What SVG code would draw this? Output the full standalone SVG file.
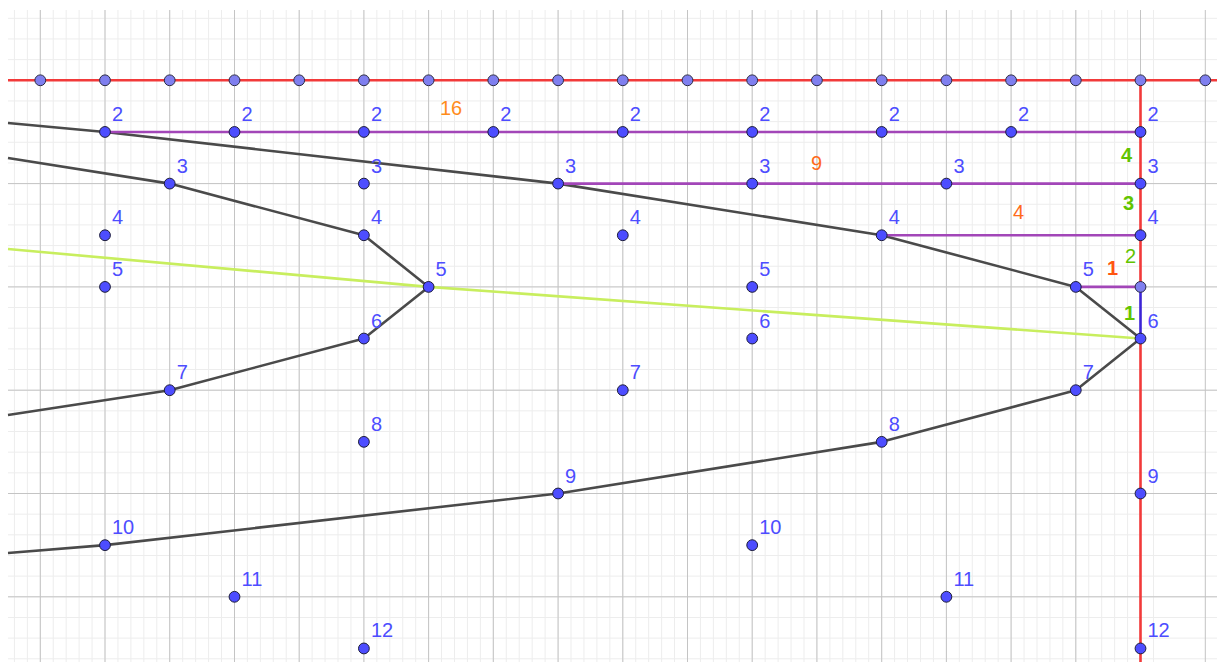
<svg xmlns="http://www.w3.org/2000/svg" width="1217" height="662" viewBox="0 0 1217 662">
<style>
.minor{stroke:#ededed;stroke-width:1;fill:none}
.major{stroke:#c4c4c4;stroke-width:1;fill:none}
.curve{stroke:#4a4a4a;stroke-width:2.6;fill:none;stroke-linejoin:round}
.purple{stroke:#a246b8;stroke-width:2.6;fill:none}
.red{stroke:#f23a3a;stroke-width:2.6;fill:none}
.blue{stroke:#3c24d6;stroke-width:2.6;fill:none}
.yellow{stroke:#c8ee5e;stroke-width:2.6;fill:none;stroke-linejoin:round}
.pt{fill:#4d4dff;stroke:#1c1c3a;stroke-width:1}
.lpt{fill:#7f7fef;stroke:#2a2a44;stroke-width:1}
.lbl{font-family:"Liberation Sans",Arial,sans-serif;font-size:20px;fill:#4d4dff}
.num{font-family:"Liberation Sans",Arial,sans-serif;font-size:20px}
.or{fill:#ff6a1a}
.gr{fill:#62c400}
</style>
<rect x="0" y="0" width="1217" height="662" fill="#ffffff"/>
<g id="grid">
<path class="minor" d="M14.41 10v652m12.944-652v652m12.944-652v652m12.944-652v652m12.944-652v652m12.944-652v652m12.944-652v652m12.944-652v652m12.944-652v652m12.944-652v652m12.944-652v652m12.944-652v652m12.944-652v652m12.944-652v652m12.944-652v652m12.944-652v652m12.944-652v652m12.944-652v652m12.944-652v652m12.944-652v652m12.944-652v652m12.944-652v652m12.944-652v652m12.944-652v652m12.944-652v652m12.944-652v652m12.944-652v652m12.944-652v652m12.944-652v652m12.944-652v652m12.944-652v652m12.944-652v652m12.944-652v652m12.944-652v652m12.944-652v652m12.944-652v652m12.944-652v652m12.944-652v652m12.944-652v652m12.944-652v652m12.944-652v652m12.944-652v652m12.944-652v652m12.944-652v652m12.944-652v652m12.944-652v652m12.944-652v652m12.944-652v652m12.944-652v652m12.944-652v652m12.944-652v652m12.944-652v652m12.944-652v652m12.944-652v652m12.944-652v652m12.944-652v652m12.944-652v652m12.944-652v652m12.944-652v652m12.944-652v652m12.944-652v652m12.944-652v652m12.944-652v652m12.944-652v652m12.944-652v652m12.944-652v652m12.944-652v652m12.944-652v652m12.944-652v652m12.944-652v652m12.944-652v652m12.944-652v652m12.944-652v652m12.944-652v652m12.944-652v652m12.944-652v652m12.944-652v652m12.944-652v652m12.944-652v652m12.944-652v652m12.944-652v652m12.944-652v652m12.944-652v652m12.944-652v652m12.944-652v652m12.944-652v652m12.944-652v652m12.944-652v652m12.944-652v652"/>
<path class="minor" d="M8 18.32h1209m-1209 20.66h1209m-1209 20.66h1209m-1209 20.66h1209m-1209 20.66h1209m-1209 20.66h1209m-1209 20.66h1209m-1209 20.66h1209m-1209 20.66h1209m-1209 20.66h1209m-1209 20.66h1209m-1209 20.66h1209m-1209 20.66h1209m-1209 20.66h1209m-1209 20.66h1209m-1209 20.66h1209m-1209 20.66h1209m-1209 20.66h1209m-1209 20.66h1209m-1209 20.66h1209m-1209 20.66h1209m-1209 20.66h1209m-1209 20.66h1209m-1209 20.66h1209m-1209 20.66h1209m-1209 20.66h1209m-1209 20.66h1209m-1209 20.66h1209m-1209 20.66h1209m-1209 20.66h1209m-1209 20.66h1209m-1209 20.66h1209"/>
<path class="major" d="M40.3 10V662M105 10V662M169.7 10V662M234.5 10V662M299.2 10V662M363.9 10V662M428.6 10V662M493.3 10V662M558.1 10V662M622.8 10V662M687.5 10V662M752.2 10V662M816.9 10V662M881.7 10V662M946.4 10V662M1011.1 10V662M1075.8 10V662M1140.5 10V662M1205.3 10V662"/>
<path class="major" d="M8 80.3H1217M8 183.6H1217M8 286.9H1217M8 390.2H1217M8 493.5H1217M8 596.8H1217"/>
</g>
<g id="connectors">
<polyline class="curve" points="8,123 105,131.95 558.1,183.6 881.7,235.25 1075.8,286.9 1140.5,338.55 1075.8,390.2 881.7,441.85 558.1,493.5 105,545.15 8,553"/>
<polyline class="curve" points="8,158 169.7,183.6 363.9,235.25 428.6,286.9 363.9,338.55 169.7,390.2 8,415"/>
<path class="purple" d="M105 131.95H1140.5M558.1 183.6H1140.5M881.7 235.25H1140.5M1075.8 286.9H1140.5"/>
<path class="red" d="M8 80.3H1217M1140.5 80.3V286.9M1140.5 338.55V662"/>
<path class="blue" d="M1140.5 286.9V338.55"/>
<polyline class="yellow" points="8,249 428.6,286.9 1140.5,338.55"/>
</g>
<g id="axis-points">
<circle class="lpt" cx="40.3" cy="80.3" r="5.4"/><circle class="lpt" cx="105" cy="80.3" r="5.4"/><circle class="lpt" cx="169.7" cy="80.3" r="5.4"/><circle class="lpt" cx="234.5" cy="80.3" r="5.4"/><circle class="lpt" cx="299.2" cy="80.3" r="5.4"/><circle class="lpt" cx="363.9" cy="80.3" r="5.4"/><circle class="lpt" cx="428.6" cy="80.3" r="5.4"/><circle class="lpt" cx="493.3" cy="80.3" r="5.4"/><circle class="lpt" cx="558.1" cy="80.3" r="5.4"/><circle class="lpt" cx="622.8" cy="80.3" r="5.4"/><circle class="lpt" cx="687.5" cy="80.3" r="5.4"/><circle class="lpt" cx="752.2" cy="80.3" r="5.4"/><circle class="lpt" cx="816.9" cy="80.3" r="5.4"/><circle class="lpt" cx="881.7" cy="80.3" r="5.4"/><circle class="lpt" cx="946.4" cy="80.3" r="5.4"/><circle class="lpt" cx="1011.1" cy="80.3" r="5.4"/><circle class="lpt" cx="1075.8" cy="80.3" r="5.4"/><circle class="lpt" cx="1140.5" cy="80.3" r="5.4"/><circle class="lpt" cx="1205.3" cy="80.3" r="5.4"/>
<circle class="lpt" cx="1140.5" cy="286.9" r="5.4"/>
</g>
<g id="row2">
<circle class="pt" cx="105" cy="131.95" r="5.4"/><circle class="pt" cx="234.5" cy="131.95" r="5.4"/><circle class="pt" cx="363.9" cy="131.95" r="5.4"/><circle class="pt" cx="493.3" cy="131.95" r="5.4"/><circle class="pt" cx="622.8" cy="131.95" r="5.4"/><circle class="pt" cx="752.2" cy="131.95" r="5.4"/><circle class="pt" cx="881.7" cy="131.95" r="5.4"/><circle class="pt" cx="1011.1" cy="131.95" r="5.4"/><circle class="pt" cx="1140.5" cy="131.95" r="5.4"/>
<text class="lbl" x="112" y="121">2</text><text class="lbl" x="241.5" y="121">2</text><text class="lbl" x="370.9" y="121">2</text><text class="lbl" x="500.3" y="121">2</text><text class="lbl" x="629.8" y="121">2</text><text class="lbl" x="759.2" y="121">2</text><text class="lbl" x="888.7" y="121">2</text><text class="lbl" x="1018.1" y="121">2</text><text class="lbl" x="1147.5" y="121">2</text>
</g>
<g id="row3">
<circle class="pt" cx="169.7" cy="183.6" r="5.4"/><circle class="pt" cx="363.9" cy="183.6" r="5.4"/><circle class="pt" cx="558.1" cy="183.6" r="5.4"/><circle class="pt" cx="752.2" cy="183.6" r="5.4"/><circle class="pt" cx="946.4" cy="183.6" r="5.4"/><circle class="pt" cx="1140.5" cy="183.6" r="5.4"/>
<text class="lbl" x="176.7" y="172.6">3</text><text class="lbl" x="370.9" y="172.6">3</text><text class="lbl" x="565.1" y="172.6">3</text><text class="lbl" x="759.2" y="172.6">3</text><text class="lbl" x="953.4" y="172.6">3</text><text class="lbl" x="1147.5" y="172.6">3</text>
</g>
<g id="row4">
<circle class="pt" cx="105" cy="235.25" r="5.4"/><circle class="pt" cx="363.9" cy="235.25" r="5.4"/><circle class="pt" cx="622.8" cy="235.25" r="5.4"/><circle class="pt" cx="881.7" cy="235.25" r="5.4"/><circle class="pt" cx="1140.5" cy="235.25" r="5.4"/>
<text class="lbl" x="112" y="224.25">4</text><text class="lbl" x="370.9" y="224.25">4</text><text class="lbl" x="629.8" y="224.25">4</text><text class="lbl" x="888.7" y="224.25">4</text><text class="lbl" x="1147.5" y="224.25">4</text>
</g>
<g id="row5">
<circle class="pt" cx="105" cy="286.9" r="5.4"/><circle class="pt" cx="428.6" cy="286.9" r="5.4"/><circle class="pt" cx="752.2" cy="286.9" r="5.4"/><circle class="pt" cx="1075.8" cy="286.9" r="5.4"/>
<text class="lbl" x="112" y="275.9">5</text><text class="lbl" x="435.6" y="275.9">5</text><text class="lbl" x="759.2" y="275.9">5</text><text class="lbl" x="1082.8" y="275.9">5</text>
</g>
<g id="row6">
<circle class="pt" cx="363.9" cy="338.55" r="5.4"/><circle class="pt" cx="752.2" cy="338.55" r="5.4"/><circle class="pt" cx="1140.5" cy="338.55" r="5.4"/>
<text class="lbl" x="370.9" y="327.55">6</text><text class="lbl" x="759.2" y="327.55">6</text><text class="lbl" x="1147.5" y="327.55">6</text>
</g>
<g id="row7">
<circle class="pt" cx="169.7" cy="390.2" r="5.4"/><circle class="pt" cx="622.8" cy="390.2" r="5.4"/><circle class="pt" cx="1075.8" cy="390.2" r="5.4"/>
<text class="lbl" x="176.7" y="379.2">7</text><text class="lbl" x="629.8" y="379.2">7</text><text class="lbl" x="1082.8" y="379.2">7</text>
</g>
<g id="row8">
<circle class="pt" cx="363.9" cy="441.85" r="5.4"/><circle class="pt" cx="881.7" cy="441.85" r="5.4"/>
<text class="lbl" x="370.9" y="430.85">8</text><text class="lbl" x="888.7" y="430.85">8</text>
</g>
<g id="row9">
<circle class="pt" cx="558.1" cy="493.5" r="5.4"/><circle class="pt" cx="1140.5" cy="493.5" r="5.4"/>
<text class="lbl" x="565.1" y="482.5">9</text><text class="lbl" x="1147.5" y="482.5">9</text>
</g>
<g id="row10">
<circle class="pt" cx="105" cy="545.15" r="5.4"/><circle class="pt" cx="752.2" cy="545.15" r="5.4"/>
<text class="lbl" x="112" y="534.15">10</text><text class="lbl" x="759.2" y="534.15">10</text>
</g>
<g id="row11">
<circle class="pt" cx="234.5" cy="596.8" r="5.4"/><circle class="pt" cx="946.4" cy="596.8" r="5.4"/>
<text class="lbl" x="241.5" y="585.8">11</text><text class="lbl" x="953.4" y="585.8">11</text>
</g>
<g id="row12">
<circle class="pt" cx="363.9" cy="648.45" r="5.4"/><circle class="pt" cx="1140.5" cy="648.45" r="5.4"/>
<text class="lbl" x="370.9" y="637.45">12</text><text class="lbl" x="1147.5" y="637.45">12</text>
</g>
<g id="length-labels">
<text class="num" x="440" y="115" fill="#ff8c1a">16</text>
<text class="num or" x="811" y="170">9</text>
<text class="num or" x="1013" y="219">4</text>
<text class="num" x="1107" y="275" fill="#ff5511" font-weight="bold">1</text>
<text class="num gr" x="1121" y="162" font-weight="bold">4</text>
<text class="num gr" x="1123" y="210" font-weight="bold">3</text>
<text class="num gr" x="1125" y="263">2</text>
<text class="num gr" x="1124" y="320" font-weight="bold">1</text>
</g>
</svg>
